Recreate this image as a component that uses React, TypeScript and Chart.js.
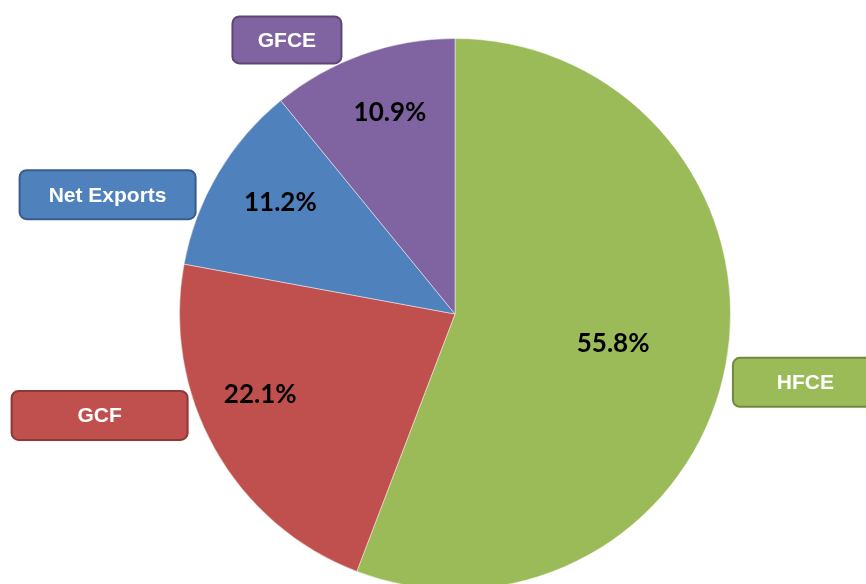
import React, { useEffect, useRef } from "react";
import { Chart, registerables } from "chart.js";

Chart.register(...registerables);

const categories = ["HFCE", "GCF", "Net Exports", "GFCE"];
const shares = [55.8, 22.1, 11.2, 10.9];
const fillColors = ["#9BBB59", "#C0504D", "#4F81BD", "#8064A2"];
const edgeColors = ["#71893F", "#8C3836", "#385D8A", "#5C4776"];

// label layout, relative to pie centre in units of the radius
const pctOffsets = [
  [0.574, 0.107],
  [-0.707, 0.293],
  [-0.634, -0.406],
  [-0.236, -0.73],
];
const boxOffsets = [
  [1.272, 0.248],
  [-1.29, 0.368],
  [-1.261, -0.433],
  [-0.61, -0.995],
];
const boxSizes = [
  [145, 49],
  [176, 49],
  [176, 49],
  [109, 47],
];

function roundRect(ctx: CanvasRenderingContext2D, x: number, y: number, w: number, h: number, r: number) {
  ctx.beginPath();
  ctx.moveTo(x + r, y);
  ctx.lineTo(x + w - r, y);
  ctx.arcTo(x + w, y, x + w, y + r, r);
  ctx.lineTo(x + w, y + h - r);
  ctx.arcTo(x + w, y + h, x + w - r, y + h, r);
  ctx.lineTo(x + r, y + h);
  ctx.arcTo(x, y + h, x, y + h - r, r);
  ctx.lineTo(x, y + r);
  ctx.arcTo(x, y, x + r, y, r);
  ctx.closePath();
}

const labelPlugin = {
  id: "pieLabels",
  afterDraw(chart: any) {
    const ctx: CanvasRenderingContext2D = chart.ctx;
    const meta = chart.getDatasetMeta(0);
    ctx.save();
    meta.data.forEach((arc: any, i: number) => {
      const { x, y, outerRadius } = arc.getProps(["x", "y", "outerRadius"], true);
      const r = outerRadius;
      // percentage
      const px = x + pctOffsets[i][0] * r;
      const py = y + pctOffsets[i][1] * r;
      ctx.font = "bold 26px Lato";
      ctx.fillStyle = "#000";
      ctx.textAlign = "center";
      ctx.textBaseline = "middle";
      ctx.fillText(shares[i].toFixed(1) + "%", px, py);
      // callout box
      const bx = x + boxOffsets[i][0] * r;
      const by = y + boxOffsets[i][1] * r;
      const [bw, bh] = boxSizes[i];
      roundRect(ctx, bx - bw / 2, by - bh / 2, bw, bh, 7);
      ctx.fillStyle = fillColors[i];
      ctx.fill();
      ctx.lineWidth = 2;
      ctx.strokeStyle = edgeColors[i];
      ctx.stroke();
      ctx.font = "bold 21px 'Liberation Sans', Arial, sans-serif";
      ctx.fillStyle = "#fff";
      ctx.fillText(categories[i], bx, by + 1);
    });
    ctx.restore();
  },
};

export default function App() {
  const ref = useRef<HTMLCanvasElement>(null);
  useEffect(() => {
    if (!ref.current) return;
    const chart = new Chart(ref.current, {
      type: "pie",
      data: {
        labels: categories,
        datasets: [
          {
            data: shares,
            backgroundColor: fillColors,
            borderColor: "rgba(255,255,255,0.45)",
            borderWidth: 1,
          },
        ],
      },
      options: {
        responsive: false,
        animation: false,
        devicePixelRatio: 1,
        layout: { padding: { top: 38, bottom: 0, left: 0, right: 0 } },
        plugins: {
          legend: { display: false },
          tooltip: { enabled: false },
        },
      },
      plugins: [labelPlugin],
    });
    return () => chart.destroy();
  }, []);
  return (
    <div style={{ position: "fixed", left: 0, top: 0, width: 866, height: 584, overflow: "hidden", background: "#fff" }}>
      <canvas ref={ref} width={910} height={590} style={{ position: "absolute", left: 0, top: 0, width: 910, height: 590 }} />
    </div>
  );
}
